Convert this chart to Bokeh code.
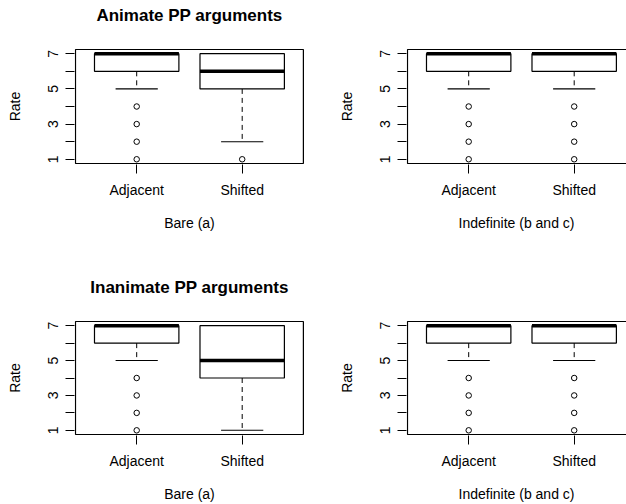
from bokeh.plotting import figure
from bokeh.layouts import column, row
from bokeh.models import Range1d, FixedTicker, ColumnDataSource, Title
from bokeh.embed import file_html
from bokeh.resources import INLINE

# ---------------- data ----------------
categories = ["Adjacent", "Shifted"]
y_ticks = [1, 2, 3, 4, 5, 6, 7]
y_tick_hidden = [2, 4, 6]

titles = ["Animate PP arguments", "", "Inanimate PP arguments", ""]
x_labels = ["Bare (a)", "Indefinite (b and c)", "Bare (a)", "Indefinite (b and c)"]
y_label = "Rate"

# Animate PP arguments, Bare (a)
animate_bare_lower = [5, 2]
animate_bare_q1 = [6, 5]
animate_bare_median = [7, 6]
animate_bare_q3 = [7, 7]
animate_bare_upper = [7, 7]
animate_bare_outliers = [[1, 2, 3, 4], [1]]

# Animate PP arguments, Indefinite (b and c)
animate_indef_lower = [5, 5]
animate_indef_q1 = [6, 6]
animate_indef_median = [7, 7]
animate_indef_q3 = [7, 7]
animate_indef_upper = [7, 7]
animate_indef_outliers = [[1, 2, 3, 4], [1, 2, 3, 4]]

# Inanimate PP arguments, Bare (a)
inanimate_bare_lower = [5, 1]
inanimate_bare_q1 = [6, 4]
inanimate_bare_median = [7, 5]
inanimate_bare_q3 = [7, 7]
inanimate_bare_upper = [7, 7]
inanimate_bare_outliers = [[1, 2, 3, 4], []]

# Inanimate PP arguments, Indefinite (b and c)
inanimate_indef_lower = [5, 5]
inanimate_indef_q1 = [6, 6]
inanimate_indef_median = [7, 7]
inanimate_indef_q3 = [7, 7]
inanimate_indef_upper = [7, 7]
inanimate_indef_outliers = [[1, 2, 3, 4], [1, 2, 3, 4]]

panels = [
    (animate_bare_lower, animate_bare_q1, animate_bare_median, animate_bare_q3, animate_bare_upper, animate_bare_outliers),
    (animate_indef_lower, animate_indef_q1, animate_indef_median, animate_indef_q3, animate_indef_upper, animate_indef_outliers),
    (inanimate_bare_lower, inanimate_bare_q1, inanimate_bare_median, inanimate_bare_q3, inanimate_bare_upper, inanimate_bare_outliers),
    (inanimate_indef_lower, inanimate_indef_q1, inanimate_indef_median, inanimate_indef_q3, inanimate_indef_upper, inanimate_indef_outliers),
]

# ---------------- style ----------------
FONT = "Liberation Sans"
X_LIM = (0.42, 2.58)      # R-style plot region limits
Y_LIM = (0.76, 7.24)
PX_X = 105.5              # pixels per x unit
PX_Y = 114.0 / (Y_LIM[1] - Y_LIM[0])
BOX_HALF = 0.4
CAP_HALF = 0.2
FIG_W = 313
ROW_H = [272, 232]
FRAME_TOP = 48
FRAME_H = 116


def make_panel(idx):
    lower, q1, med, q3, upper, outl = panels[idx]
    col = idx % 2
    r = idx // 2
    h = ROW_H[r]
    if col == 0:
        mbl, mbr = 74, 9
    else:
        mbl, mbr = 93, 0
    frame_w = FIG_W - mbl - mbr
    x0 = X_LIM[0] - 1.0 / PX_X
    x1 = x0 + frame_w / PX_X
    y0 = Y_LIM[0] - 1.0 / PX_Y
    y1 = Y_LIM[1] + 1.0 / PX_Y

    p = figure(width=FIG_W, height=h, output_backend="svg", toolbar_location=None,
               x_range=Range1d(x0, x1), y_range=Range1d(y0, y1),
               min_border_left=mbl, min_border_right=mbr,
               min_border_top=FRAME_TOP, min_border_bottom=h - FRAME_TOP - FRAME_H,
               title=titles[idx] if titles[idx] else None)
    p.outline_line_color = None
    p.background_fill_color = "white"
    p.border_fill_color = "white"
    p.xgrid.visible = False
    p.ygrid.visible = False

    if titles[idx]:
        # blank spacer between the frame and the title
        p.add_layout(Title(text=" ", text_font_size="2px", standoff=20), "above")
        p.title.text_font = FONT
        p.title.text_font_size = "17px"
        p.title.text_font_style = "bold"
        p.title.align = "center"
        p.title.text_color = "black"
        p.title.standoff = 0

    xs = [i + 1 for i in range(len(categories))]
    src = ColumnDataSource(dict(
        x=xs,
        left=[x - BOX_HALF for x in xs], right=[x + BOX_HALF for x in xs],
        cl=[x - CAP_HALF for x in xs], cr=[x + CAP_HALF for x in xs],
        lower=lower, q1=q1, med=med, q3=q3, upper=upper))

    # plot-region box
    p.quad(left=[X_LIM[0]], right=[X_LIM[1]], bottom=[Y_LIM[0]], top=[Y_LIM[1]],
           fill_color=None, line_color="black", line_width=1.2)

    # whiskers
    p.segment(x0="x", y0="q1", x1="x", y1="lower", source=src,
              line_color="black", line_width=1, line_dash="5 4")
    p.segment(x0="x", y0="q3", x1="x", y1="upper", source=src,
              line_color="black", line_width=1, line_dash="5 4")
    # caps
    p.segment(x0="cl", y0="lower", x1="cr", y1="lower", source=src,
              line_color="black", line_width=1.1)
    p.segment(x0="cl", y0="upper", x1="cr", y1="upper", source=src,
              line_color="black", line_width=1.1)
    # boxes
    p.quad(left="left", right="right", bottom="q1", top="q3", source=src,
           fill_color="white", line_color="black", line_width=1.2)
    # medians
    p.segment(x0="left", y0="med", x1="right", y1="med", source=src,
              line_color="black", line_width=3.5)
    # outliers
    ox, oy = [], []
    for x, vals in zip(xs, outl):
        for v in vals:
            ox.append(x)
            oy.append(v)
    p.scatter(ox, oy, marker="circle", size=5.5, fill_color=None,
              line_color="black", line_width=1)

    # axes
    xa = p.xaxis[0]
    xa.ticker = FixedTicker(ticks=xs)
    xa.major_label_overrides = {x: c for x, c in zip(xs, categories)}
    xa.axis_line_color = None
    xa.major_tick_out = 9
    xa.major_tick_in = 0
    xa.minor_tick_out = 0
    xa.minor_tick_in = 0
    xa.major_tick_line_color = "black"
    xa.major_label_text_font = FONT
    xa.major_label_text_font_size = "14px"
    xa.major_label_text_color = "black"
    xa.major_label_standoff = 8
    xa.axis_label = x_labels[idx]
    xa.axis_label_text_font = FONT
    xa.axis_label_text_font_size = "14px"
    xa.axis_label_text_font_style = "normal"
    xa.axis_label_text_color = "black"
    xa.axis_label_standoff = 14

    ya = p.yaxis[0]
    ya.ticker = FixedTicker(ticks=y_ticks)
    ya.major_label_overrides = {t: "" for t in y_tick_hidden}
    ya.major_label_orientation = "vertical"
    ya.axis_line_color = None
    ya.major_tick_out = 9
    ya.major_tick_in = 0
    ya.minor_tick_out = 0
    ya.minor_tick_in = 0
    ya.major_tick_line_color = "black"
    ya.major_label_text_font = FONT
    ya.major_label_text_font_size = "14px"
    ya.major_label_text_color = "black"
    ya.major_label_standoff = 7
    ya.axis_label = y_label
    ya.axis_label_text_font = FONT
    ya.axis_label_text_font_size = "14px"
    ya.axis_label_text_font_style = "normal"
    ya.axis_label_text_color = "black"
    ya.axis_label_standoff = 23
    return p


figs = [make_panel(i) for i in range(4)]
layout = column(row(figs[0], figs[1]), row(figs[2], figs[3]))

open("out.html", "w").write(file_html(layout, INLINE))
